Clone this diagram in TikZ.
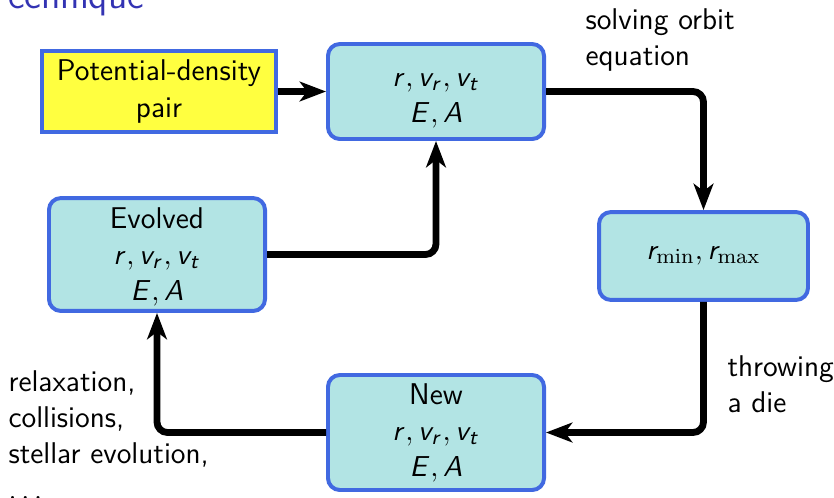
\documentclass[tikz,border=0pt]{standalone}
\usetikzlibrary{arrows.meta}
\DeclareMathAlphabet{\mathsfit}{OT1}{cmss}{m}{sl}
\newcommand{\sv}[1]{\mathsfit{#1}}
\definecolor{boxedge}{RGB}{65,105,225}
\definecolor{boxfill}{RGB}{178,228,228}
\definecolor{pairfill}{RGB}{255,255,64}
\definecolor{titleblue}{RGB}{51,51,179}
\begin{document}
\begin{tikzpicture}[x=0.38pt,y=-0.38pt,
  every node/.style={font=\fontsize{11.4}{13.7}\selectfont\sffamily},
  box/.style={draw=boxedge, line width=1.5pt, fill=boxfill, rounded corners=4.5pt,
    align=center, inner sep=0pt},
  flow/.style={line width=2.6pt, rounded corners=4pt,
    -{Stealth[length=10pt,width=7.5pt,inset=2.8pt]}},
  lbl/.style={align=left, inner sep=0pt, anchor=north west}]
\useasboundingbox (0,0) rectangle (834,497);

% frame title, partly outside the visible area
\node[anchor=base west, inner sep=0pt, text=titleblue,
  font=\fontsize{14.6}{17}\selectfont\sffamily] (title) at (-15,8) {Technique};

% boxes
\node[box, rounded corners=0pt, fill=pairfill, minimum width=88.9pt, minimum height=30.8pt]
  (pd) at (159,91.5) {Potential-density\\pair};
\node[box, minimum width=82.1pt, minimum height=36.1pt]
  (top) at (436,91.5) {};
\node[align=center, inner sep=0pt] (toptxt) at (436,101)
  {$\sv{r}, \sv{v}_{\sv{r}}, \sv{v}_{\sv{t}}$\\$\sv{E}, \sv{A}$};
\node[box, minimum width=79.4pt, minimum height=33.4pt]
  (rr) at (703.5,256) {$\sv{r}_{\mathrm{min}}, \sv{r}_{\mathrm{max}}$};
\node[box, minimum width=82.1pt, minimum height=42.9pt]
  (ev) at (157,254.5) {};
\node[align=center, inner sep=0pt] (evtxt) at (157,257)
  {Evolved\\$\sv{r}, \sv{v}_{\sv{r}}, \sv{v}_{\sv{t}}$\\$\sv{E}, \sv{A}$};
\node[box, minimum width=82.1pt, minimum height=43.7pt]
  (nw) at (436,432.5) {New\\$\sv{r}, \sv{v}_{\sv{r}}, \sv{v}_{\sv{t}}$\\$\sv{E}, \sv{A}$};

% connectors
\draw[flow] (pd.east) -- (top.west);
\draw[flow] (top.east) -| (rr.north);
\draw[flow] (rr.south) |- (nw.east);
\draw[flow] (nw.west) -| (ev.south);
\draw[flow] (ev.east) -| (top.south);

% labels
\node[lbl] (solve) at (585,8) {solving orbit\\equation};
\node[lbl] (throw) at (727,355) {throwing\\a die};
\node[lbl] (proc) at (8,370) {relaxation,\\collisions,\\stellar evolution,\\$\ldots$};
\end{tikzpicture}
\end{document}
